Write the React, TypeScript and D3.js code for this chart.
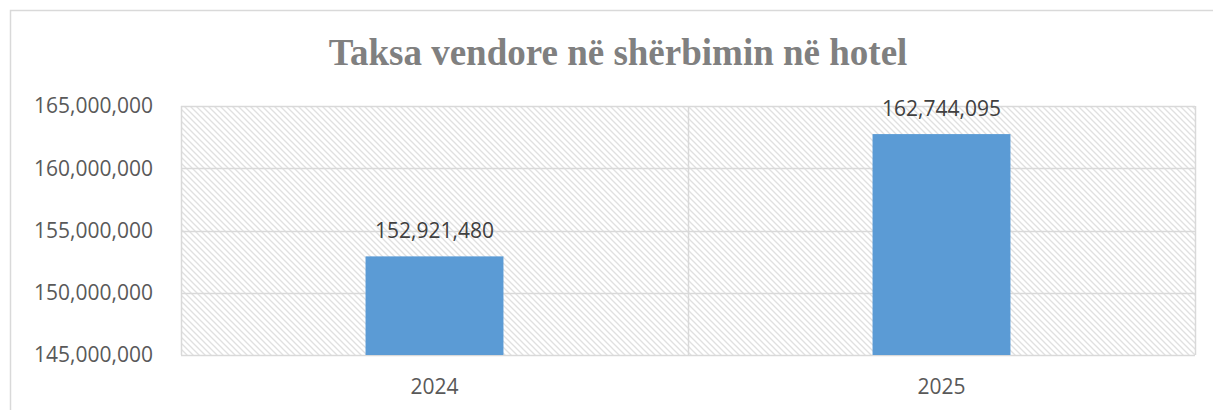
import React, { useEffect, useRef } from "react";
import * as d3 from "d3";

// chart data
const years = ["2024", "2025"];
const values = [152921480, 162744095];
const yTicks = [145000000, 150000000, 155000000, 160000000, 165000000];
const title = "Taksa vendore në shërbimin në hotel";

const App: React.FC = () => {
  const svgRef = useRef<SVGSVGElement>(null);
  const width = 1213;
  const height = 410;

  useEffect(() => {
    if (!svgRef.current) return;
    const svg = d3.select(svgRef.current);
    svg.selectAll("*").remove();

    // plot area
    const plot = { left: 181, right: 1195, top: 106, bottom: 355 };
    const labelFont = "'Open Sans', sans-serif";
    const gridColor = "#d9d9d9";

    // hatch pattern (downward diagonal)
    const defs = svg.append("defs");
    const pat = defs
      .append("pattern")
      .attr("id", "hatch")
      .attr("patternUnits", "userSpaceOnUse")
      .attr("width", 6)
      .attr("height", 6);
    pat.append("rect").attr("width", 6).attr("height", 6).attr("fill", "#fff");
    pat
      .append("path")
      .attr("d", "M-1,-1 L7,7 M-1,5 L1,7 M5,-1 L7,1")
      .attr("stroke", "#e0e0e0")
      .attr("stroke-width", 1.3);

    // outer chart border (extends beyond the window)
    svg
      .append("rect")
      .attr("x", 10.5)
      .attr("y", 10.5)
      .attr("width", width + 20)
      .attr("height", height + 20)
      .attr("fill", "#fff")
      .attr("stroke", gridColor)
      .attr("stroke-width", 1.5);

    // scales
    const x = d3
      .scaleBand<string>()
      .domain(years)
      .range([plot.left, plot.right])
      .paddingInner(0.728)
      .paddingOuter(0.364);

    const y = d3
      .scaleLinear()
      .domain([145000000, 165000000])
      .range([plot.bottom, plot.top]);

    // hatched background
    svg
      .append("rect")
      .attr("x", plot.left)
      .attr("y", plot.top)
      .attr("width", plot.right - plot.left)
      .attr("height", plot.bottom - plot.top)
      .attr("fill", "url(#hatch)");

    // horizontal gridlines
    svg
      .append("g")
      .selectAll("line")
      .data(yTicks)
      .join("line")
      .attr("x1", plot.left)
      .attr("x2", plot.right)
      .attr("y1", (d) => Math.round(y(d)) + 0.5)
      .attr("y2", (d) => Math.round(y(d)) + 0.5)
      .attr("stroke", gridColor)
      .attr("stroke-width", 1.5);

    // vertical divider between categories + plot sides
    const step = x.step();
    const dividers = [plot.left, (x(years[0]) || 0) + x.bandwidth() / 2 + step / 2, plot.right];
    svg
      .append("g")
      .selectAll("line")
      .data(dividers)
      .join("line")
      .attr("x1", (d) => Math.round(d) + 0.5)
      .attr("x2", (d) => Math.round(d) + 0.5)
      .attr("y1", plot.top)
      .attr("y2", plot.bottom)
      .attr("stroke", gridColor)
      .attr("stroke-width", 1.5);

    // bars
    svg
      .append("g")
      .selectAll("rect")
      .data(values)
      .join("rect")
      .attr("x", (_, i) => x(years[i]) || 0)
      .attr("y", (d) => y(d))
      .attr("width", x.bandwidth())
      .attr("height", (d) => y.range()[0] - y(d))
      .attr("fill", "#5b9bd5");

    // data labels
    svg
      .append("g")
      .selectAll("text")
      .data(values)
      .join("text")
      .attr("x", (_, i) => (x(years[i]) || 0) + x.bandwidth() / 2)
      .attr("y", (d) => y(d) - 18)
      .attr("text-anchor", "middle")
      .style("font-family", labelFont)
      .style("font-size", "21px")
      .style("fill", "#404040")
      .text((d) => d3.format(",")(d));

    // y axis labels
    svg
      .append("g")
      .selectAll("text")
      .data(yTicks)
      .join("text")
      .attr("x", 153)
      .attr("y", (d) => y(d))
      .attr("dy", "0.35em")
      .attr("text-anchor", "end")
      .style("font-family", labelFont)
      .style("font-size", "21px")
      .style("fill", "#595959")
      .text((d) => d3.format(",")(d));

    // x axis labels
    svg
      .append("g")
      .selectAll("text")
      .data(years)
      .join("text")
      .attr("x", (d) => (x(d) || 0) + x.bandwidth() / 2)
      .attr("y", 387)
      .attr("dy", "0.35em")
      .attr("text-anchor", "middle")
      .style("font-family", labelFont)
      .style("font-size", "21px")
      .style("fill", "#595959")
      .text((d) => d);

    // title
    svg
      .append("text")
      .attr("x", 618)
      .attr("y", 65)
      .attr("text-anchor", "middle")
      .style("font-family", "'Liberation Serif', 'Times New Roman', serif")
      .style("font-weight", "bold")
      .style("font-size", "37px")
      .style("fill", "#808080")
      .text(title);
  }, []);

  return (
    <svg
      ref={svgRef}
      width={width}
      height={height}
      style={{ position: "absolute", left: 0, top: 0, background: "#fff" }}
    />
  );
};

export default App;
